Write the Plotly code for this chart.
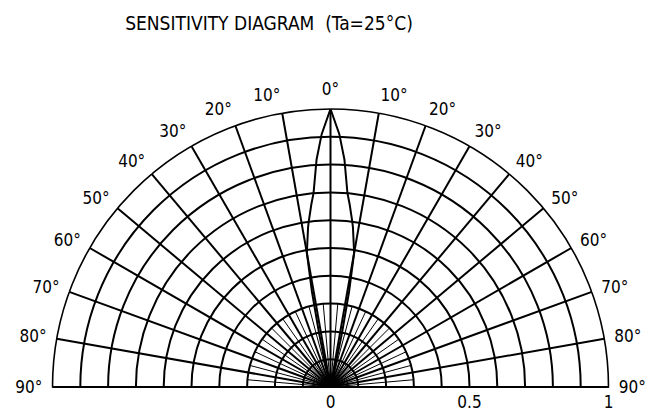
import plotly.graph_objects as go

# half-lobe (right side; the left side is its mirror)
angles = [0, 2, 3.5, 5, 6, 7.5, 8, 10, 11, 12, 13, 14]
sensitivity = [1.0, 0.91, 0.82, 0.70, 0.66, 0.60, 0.58, 0.49, 0.35, 0.20, 0.08, 0.0]

angle_ticks = list(range(-90, 91, 10))
angle_labels = [f"{abs(a)}°" for a in angle_ticks]
radial_ticks = [round(i * 0.1, 1) for i in range(11)]
radial_labels = ["0", "", "", "", "", "0.5", "", "", "", "", "1"]

theta = [-a for a in reversed(angles)] + angles[1:]
r = list(reversed(sensitivity)) + sensitivity[1:]

fig = go.Figure()

# extra 5 degree spokes near the centre, as drawn on the original grid
for a in range(-85, 90, 10):
    fig.add_trace(go.Scatterpolar(
        r=[0, 0.3], theta=[a, a], mode="lines",
        line=dict(color="black", width=1), hoverinfo="skip", showlegend=False
    ))

fig.add_trace(go.Scatterpolar(
    r=r, theta=theta, mode="lines",
    line=dict(color="black", width=2), showlegend=False
))

font = "Liberation Sans Narrow, DejaVu Sans Condensed, Arial Narrow, sans-serif"

# page body has an 8px margin, so positions are shifted up/left by 8px
fig.update_layout(
    width=656, height=418,
    margin=dict(l=0, r=0, t=0, b=0),
    paper_bgcolor="white",
    font=dict(family=font, color="black", size=17),
    title=dict(text="SENSITIVITY DIAGRAM  (Ta=25°C)", x=261 / 656, xanchor="center",
               y=1 - 15 / 418, yanchor="middle", font=dict(size=19, family=font, color="black")),
    polar=dict(
        domain=dict(x=[44 / 656, 601 / 656], y=[1 - 379 / 418, 1 - 101 / 418]),
        sector=[0, 180],
        bgcolor="white",
        angularaxis=dict(
            rotation=90, direction="clockwise",
            tickmode="array", tickvals=angle_ticks, ticktext=angle_labels,
            ticks="outside", ticklen=6, tickcolor="white",
            showline=True, linecolor="black", linewidth=1.6,
            gridcolor="black", gridwidth=1.5,
            tickfont=dict(size=17, family=font),
        ),
        radialaxis=dict(
            range=[0, 1], tickmode="array", tickvals=radial_ticks, ticktext=radial_labels,
            ticks="", showline=True, linecolor="black", linewidth=1.6,
            gridcolor="black", gridwidth=1.5,
            tickfont=dict(size=17, family=font),
        ),
    ),
)

fig.write_html("out.html")
